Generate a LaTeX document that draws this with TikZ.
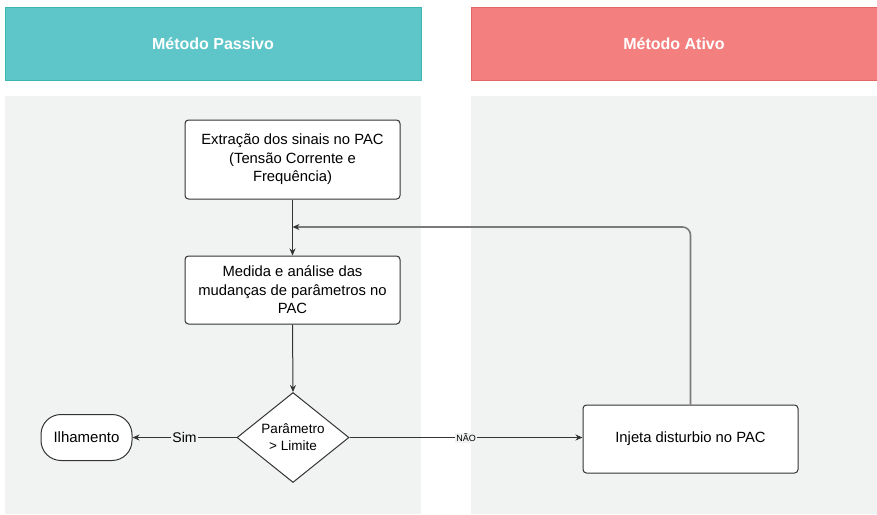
\documentclass[tikz,border=0pt]{standalone}
\usepackage{fontspec}
\setmainfont{Liberation Sans}
\usetikzlibrary{shapes.geometric,arrows.meta}
\definecolor{teal1}{HTML}{5EC6C8}
\definecolor{teal2}{HTML}{3CB5B5}
\definecolor{red1}{HTML}{F47F7F}
\definecolor{red2}{HTML}{E06666}
\definecolor{lane}{HTML}{F1F2F2}
\definecolor{edge}{HTML}{333333}
\definecolor{fb}{HTML}{7A7A7A}
\tikzset{
  hdr/.style={minimum height=73pt, inner sep=0pt, font=\fontsize{16}{18}\selectfont\bfseries, text=white, line width=0.8pt},
  proc/.style={draw=edge, fill=white, rounded corners=3.5pt, line width=1pt, align=center, font=\fontsize{14.8}{18.5}\selectfont, inner sep=2pt},
  dec/.style={draw=edge, fill=white, diamond, line width=1pt, align=center, font=\fontsize{13.5}{17}\selectfont, inner sep=0pt, minimum width=112pt, minimum height=89pt},
  term/.style={draw=edge, fill=white, rounded corners=20pt, line width=1pt, font=\fontsize{15}{17}\selectfont, minimum width=91pt, minimum height=46pt, inner sep=0pt},
  conn/.style={draw=edge, line width=1pt, -{Stealth[length=7pt,width=6pt]}},
  fbconn/.style={draw=fb, line width=1.6pt, rounded corners=8pt, -{Stealth[length=7pt,width=6pt,color=edge]}},
  lbl/.style={fill=lane, inner sep=1pt}
}
\begin{document}
\begin{tikzpicture}[x=1pt,y=-1pt]
\useasboundingbox (0,0) rectangle (877,514);
\fill[white] (0,0) rectangle (877,514);
% lanes
\fill[lane] (5,96) rectangle (421,514);
\fill[lane] (471,96) rectangle (877,514);
% headers
\node[hdr, fill=teal1, draw=teal2, minimum width=416pt] (hp) at (213,43.5) {Método Passivo};
\node[hdr, fill=red1, draw=red2, minimum width=406pt] (ha) at (674,43.5) {Método Ativo};
% nodes
\node[proc, minimum width=215pt, minimum height=79pt] (b1) at (292.5,159.5) {Extração dos sinais no PAC\\(Tensão Corrente e\\Frequência)};
\node[proc, minimum width=215pt, minimum height=68pt] (b2) at (292.5,290) {Medida e análise das\\mudanças de parâmetros no\\PAC};
\node[dec] (d) at (293,437.5) {Parâmetro\\> Limite};
\node[term] (il) at (86.5,437.5) {Ilhamento};
\node[proc, minimum width=215pt, minimum height=68pt] (inj) at (690.5,439) {Injeta disturbio no PAC};
\coordinate (m) at (292.5,227);
\coordinate (c) at (690.5,227);
% connectors
\draw[conn] (b1.south) -- (b2.north);
\draw[conn] (b2.south) -- (d.north);
\draw[conn] (d.west) -- node[lbl, pos=0.5, font=\fontsize{14}{16}\selectfont]{Sim} (il.east);
\draw[conn] (d.east) -- node[lbl, pos=0.5, font=\fontsize{9}{10}\selectfont]{NÃO} (d.east -| inj.west);
\draw[fbconn] (inj.north) -- (c) -- (m);
\end{tikzpicture}
\end{document}
